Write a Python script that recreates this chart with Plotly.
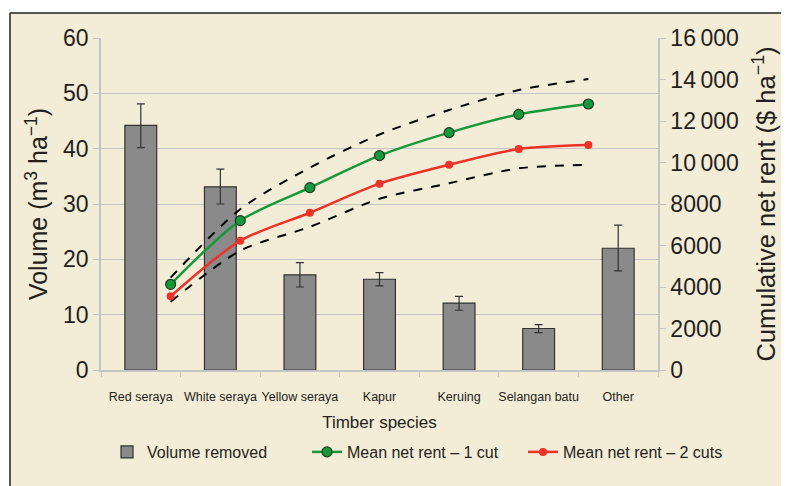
import plotly.graph_objects as go

species = ["Red seraya", "White seraya", "Yellow seraya", "Kapur", "Keruing", "Selangan batu", "Other"]
volume = [44.2, 33.1, 17.2, 16.4, 12.1, 7.5, 22.0]
vol_err_plus = [3.9, 3.2, 2.2, 1.2, 1.2, 0.7, 4.2]
vol_err_minus = [4.0, 3.1, 2.2, 1.2, 1.3, 0.75, 4.1]

rent_idx = [0, 1, 2, 3, 4, 5, 6]
rent_1cut = [4130, 7200, 8790, 10330, 11440, 12320, 12820]
rent_2cuts = [3550, 6230, 7580, 8980, 9890, 10650, 10840]
rent_upper = [4450, 7750, 9750, 11350, 12530, 13490, 14020]
rent_lower = [3290, 5750, 6900, 8250, 9000, 9720, 9880]

left_ticks = [0, 10, 20, 30, 40, 50, 60]
right_tickvals = [0, 2000, 4000, 6000, 8000, 10000, 12000, 14000, 16000]
right_ticktext = ["0", "2000", "4000", "6000", "8000", "10\u2009000", "12\u2009000", "14\u2009000", "16\u2009000"]

FONT = "Liberation Sans, Arial, sans-serif"
TXT = "#231f20"
GRID = "#c4c4c4"

# page has an 8px body margin: work in absolute window pixels, convert
OFF = 8
W, H = 789 - OFF, 486 - OFF
L, R, T, B = 101 - OFF, 658 - OFF, 38 - OFF, 370 - OFF
pw, ph = R - L, B - T

def px(x):
    return (x - OFF - L) / pw

def py(y):
    return (B - (y - OFF)) / ph

fig = go.Figure()
fig.add_trace(go.Bar(
    x=species, y=volume, name="Volume removed",
    marker=dict(color="#8a8a8a", line=dict(color="#333333", width=1.2)),
    width=0.4,
    error_y=dict(type="data", array=vol_err_plus, arrayminus=vol_err_minus,
                 color="#333333", thickness=1.2, width=4),
    xaxis="x", yaxis="y", legend="legend",
))
fig.add_trace(go.Scatter(
    x=rent_idx, y=rent_upper, mode="lines", showlegend=False,
    line=dict(color="black", dash="dash", width=2, shape="spline", smoothing=0.8),
    xaxis="x2", yaxis="y2",
))
fig.add_trace(go.Scatter(
    x=rent_idx, y=rent_lower, mode="lines", showlegend=False,
    line=dict(color="black", dash="dash", width=2, shape="spline", smoothing=0.8),
    xaxis="x2", yaxis="y2",
))
fig.add_trace(go.Scatter(
    x=rent_idx, y=rent_1cut, mode="lines+markers", name="Mean net rent \u2013 1 cut",
    line=dict(color="#17993b", width=2.5, shape="spline", smoothing=0.8),
    marker=dict(color="#17993b", size=10, line=dict(color="#1d3a1f", width=1.2)),
    xaxis="x2", yaxis="y2", legend="legend2",
))
fig.add_trace(go.Scatter(
    x=rent_idx, y=rent_2cuts, mode="lines+markers", name="Mean net rent \u2013 2 cuts",
    line=dict(color="#ec3229", width=2.5, shape="spline", smoothing=0.8),
    marker=dict(color="#ec3229", size=8),
    xaxis="x2", yaxis="y2", legend="legend3",
))

shapes = [
    dict(type="rect", xref="paper", yref="paper", x0=px(10), x1=px(800), y0=py(500), y1=py(13),
         fillcolor="#f3ecd6", line=dict(width=0), layer="below"),
    dict(type="line", xref="paper", yref="paper", x0=px(10), x1=px(800), y0=py(13), y1=py(13),
         line=dict(color="#222222", width=1.5), layer="below"),
    dict(type="line", xref="paper", yref="paper", x0=px(10), x1=px(10), y0=py(500), y1=py(13),
         line=dict(color="#222222", width=1.5), layer="below"),
]

def leg(xabs):
    return dict(orientation="h", x=px(xabs), y=py(452), xanchor="left", yanchor="middle",
                bgcolor="rgba(0,0,0,0)", font=dict(size=16, color=TXT))

fig.update_layout(
    width=W, height=H,
    margin=dict(l=L, r=W - R, t=T, b=H - B, autoexpand=False),
    paper_bgcolor="white", plot_bgcolor="white",
    font=dict(family=FONT, color=TXT),
    shapes=shapes,
    xaxis=dict(
        type="category", tickson="boundaries", ticks="outside", ticklen=5, tickcolor=GRID,
        showline=True, linecolor=GRID, linewidth=1.5, showgrid=False, tickangle=0,
        tickfont=dict(size=12.5, color=TXT), ticklabelstandoff=14,
        title=dict(text="Timber species", font=dict(size=17, color=TXT), standoff=13),
        range=[-0.5, 6.5],
    ),
    xaxis2=dict(overlaying="x", anchor="y2", range=[-1, 7], visible=False),
    yaxis=dict(
        range=[0, 60], tickvals=left_ticks, ticks="outside", ticklen=6, tickcolor=GRID,
        showline=True, linecolor=GRID, linewidth=1.5, gridcolor=GRID, gridwidth=1.2,
        tickfont=dict(size=23, color=TXT), zeroline=False,
        title=dict(text="Volume (m<sup>3</sup> ha<sup>\u22121</sup>)", font=dict(size=25, color=TXT), standoff=8),
    ),
    yaxis2=dict(
        range=[0, 16000], overlaying="y", side="right", anchor="x",
        tickvals=right_tickvals, ticktext=right_ticktext,
        ticks="outside", ticklen=6, tickcolor=GRID,
        showline=True, linecolor=GRID, linewidth=1.5, showgrid=False, zeroline=False,
        tickfont=dict(size=23, color=TXT),
        title=dict(text="Cumulative net rent ($ ha<sup>\u22121</sup>)", font=dict(size=25.5, color=TXT), standoff=19),
    ),
    legend=leg(107),
    legend2=leg(307),
    legend3=leg(523),
)

fig.write_html("out.html")
